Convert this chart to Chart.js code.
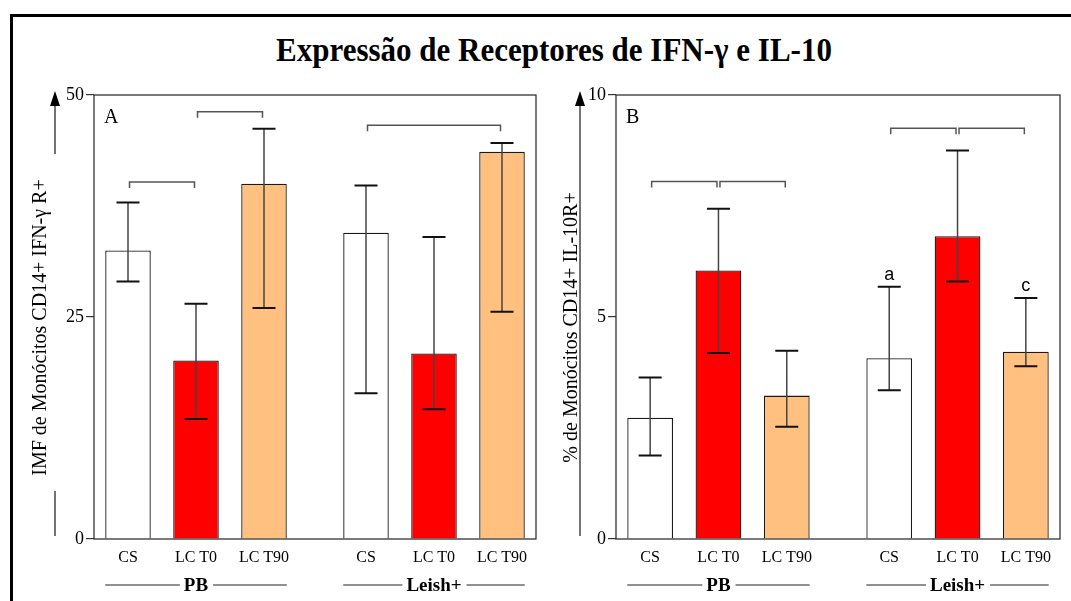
<!DOCTYPE html>
<html>
<head>
<meta charset="utf-8">
<script src="https://cdn.jsdelivr.net/npm/chart.js@4"></script>
<style>
  body { margin: 0; width: 1071px; height: 601px; overflow: hidden; background: #fff; position: relative; }
  #frame { position: absolute; left: 10px; top: 14px; width: 1100px; height: 640px; border: 3px solid #000; }
  #title { position: absolute; left: 0; width: 1108px; top: 35px; text-align: center;
           font: bold 31px "Liberation Serif", serif; line-height: 30px; color: #000; white-space: nowrap;
           transform: scaleY(1.12); }
  canvas { position: absolute; top: 80px; }
  #panelA { left: 0; }
  #panelB { left: 540px; }
</style>
</head>
<body>
<div id="frame"></div>
<div id="title">Expressão de Receptores de IFN-γ e IL-10</div>
<canvas id="panelA" width="540" height="521"></canvas>
<canvas id="panelB" width="531" height="521"></canvas>
<script>
var categories = ['CS', 'LC T0', 'LC T90', 'CS', 'LC T0', 'LC T90'];
var groups = ['PB', 'Leish+'];
var positions = [0, 1, 2, 3.5, 4.5, 5.5];
var barColors = ['#ffffff', '#ff0000', '#ffc080', '#ffffff', '#ff0000', '#ffc080'];

// A: IMF IFN-gamma R
var ifnMean = [32.5, 20.1, 40.0, 34.5, 20.9, 43.6];
var ifnLow = [29.0, 13.5, 26.0, 16.4, 14.6, 25.6];
var ifnHigh = [37.9, 26.5, 46.2, 39.8, 34.0, 44.6];
var ifnBracketFrom = [0, 1, 3.5];
var ifnBracketTo = [1, 2, 5.5];
var ifnBracketY = [40.2, 48.1, 46.6];

// B: % IL-10R
var il10Mean = [2.73, 6.05, 3.23, 4.07, 6.82, 4.22];
var il10Low = [1.88, 4.19, 2.53, 3.35, 5.80, 3.89];
var il10High = [3.64, 7.44, 4.24, 5.68, 8.75, 5.43];
var il10Letters = ['', '', '', 'a', '', 'c'];
var il10BracketFrom = [0, 1, 3.5, 4.5];
var il10BracketTo = [1, 2, 4.5, 5.5];
var il10BracketY = [8.05, 8.05, 9.25, 9.25];

var SERIF = '"Liberation Serif", "Times New Roman", serif';
var BAR_PCT = 0.67;

var decor = {
    id: 'decor',
    afterDatasetsDraw: function (chart, args, o) {
        var ctx = chart.ctx, xs = chart.scales.x, ys = chart.scales.y, a = chart.chartArea;
        var unit = xs.getPixelForValue(1) - xs.getPixelForValue(0);
        ctx.save();

        // box around plot
        ctx.strokeStyle = '#222';
        ctx.lineWidth = 1.2;
        ctx.strokeRect(a.left, a.top, a.right - a.left, a.bottom - a.top);

        // error bars
        positions.forEach(function (p, i) {
            var x = xs.getPixelForValue(p);
            var lo = ys.getPixelForValue(o.low[i]);
            var hi = ys.getPixelForValue(o.high[i]);
            ctx.strokeStyle = '#444';
            ctx.lineWidth = 1.5;
            ctx.beginPath();
            ctx.moveTo(x, lo);
            ctx.lineTo(x, hi);
            ctx.stroke();
            ctx.strokeStyle = '#111';
            ctx.lineWidth = 2;
            ctx.beginPath();
            ctx.moveTo(x - 11.5, lo); ctx.lineTo(x + 11.5, lo);
            ctx.moveTo(x - 11.5, hi); ctx.lineTo(x + 11.5, hi);
            ctx.stroke();
            if (o.letters && o.letters[i]) {
                ctx.fillStyle = '#000';
                ctx.font = '18px "Liberation Sans", Arial, sans-serif';
                ctx.textAlign = 'center';
                ctx.textBaseline = 'alphabetic';
                ctx.fillText(o.letters[i], x, hi - 7);
            }
        });

        // significance brackets
        ctx.strokeStyle = '#555';
        ctx.lineWidth = 1.5;
        o.bFrom.forEach(function (f, i) {
            var x1 = xs.getPixelForValue(f) + 1.5;
            var x2 = xs.getPixelForValue(o.bTo[i]) - 1.5;
            var y = ys.getPixelForValue(o.bY[i]);
            ctx.beginPath();
            ctx.moveTo(x1, y + 6); ctx.lineTo(x1, y); ctx.lineTo(x2, y); ctx.lineTo(x2, y + 6);
            ctx.stroke();
        });

        // panel letter
        ctx.fillStyle = '#000';
        ctx.font = '20px ' + SERIF;
        ctx.textAlign = 'left';
        ctx.textBaseline = 'alphabetic';
        ctx.fillText(o.letter, a.left + 10, a.top + 28);

        // group labels with lines
        var half = unit * BAR_PCT / 2;
        ctx.font = 'bold 19px ' + SERIF;
        ctx.textAlign = 'center';
        ctx.textBaseline = 'middle';
        ctx.strokeStyle = '#222';
        ctx.lineWidth = 1;
        groups.forEach(function (g, gi) {
            var left = xs.getPixelForValue(positions[gi * 3]) - half;
            var right = xs.getPixelForValue(positions[gi * 3 + 2]) + half;
            var mid = (left + right) / 2;
            var w = ctx.measureText(g).width;
            var y = 505;
            ctx.fillText(g, mid, y + 1);
            ctx.beginPath();
            ctx.moveTo(left, y); ctx.lineTo(mid - w / 2 - 4, y);
            ctx.moveTo(mid + w / 2 + 5, y); ctx.lineTo(right, y);
            ctx.stroke();
        });

        // y title (rotated)
        ctx.save();
        ctx.translate(o.titleX, 247.5);
        ctx.rotate(-Math.PI / 2);
        ctx.font = '20px ' + SERIF;
        ctx.textAlign = 'center';
        ctx.textBaseline = 'alphabetic';
        ctx.fillText(o.title, 0, 0);
        ctx.restore();

        // arrow beside the title
        ctx.strokeStyle = '#444';
        ctx.lineWidth = 1.5;
        o.arrowSegs.forEach(function (s) {
            ctx.beginPath();
            ctx.moveTo(o.arrowX, s[0]);
            ctx.lineTo(o.arrowX, s[1]);
            ctx.stroke();
        });
        ctx.fillStyle = '#000';
        ctx.beginPath();
        ctx.moveTo(o.arrowX, 11);
        ctx.lineTo(o.arrowX - 5, 26);
        ctx.lineTo(o.arrowX + 5, 26);
        ctx.closePath();
        ctx.fill();

        ctx.restore();
    }
};

function panel(id, mean, yMax, step, axisWidth, padRight, extra) {
    var ctx = document.getElementById(id).getContext('2d');
    return new Chart(ctx, {
        type: 'bar',
        data: {
            datasets: [{
                data: positions.map(function (p, i) { return { x: p, y: mean[i] }; }),
                backgroundColor: barColors,
                borderColor: '#1a1a1a',
                borderWidth: 1.3,
                categoryPercentage: 1,
                barPercentage: BAR_PCT
            }]
        },
        options: {
            responsive: false,
            animation: false,
            events: [],
            layout: { padding: { top: 15, right: padRight, left: 0, bottom: 0 } },
            plugins: {
                legend: { display: false },
                tooltip: { enabled: false },
                decor: extra
            },
            scales: {
                x: {
                    type: 'linear',
                    offset: false,
                    min: -0.5,
                    max: 6,
                    grid: { display: false, drawTicks: false },
                    border: { display: false },
                    afterBuildTicks: function (scale) {
                        scale.ticks = positions.map(function (p) { return { value: p }; });
                    },
                    afterFit: function (scale) { scale.height = 62; },
                    ticks: {
                        autoSkip: false,
                        maxRotation: 0,
                        padding: 9,
                        color: '#000',
                        font: { family: SERIF, size: 16 },
                        callback: function (v) { return categories[positions.indexOf(v)]; }
                    }
                },
                y: {
                    min: 0,
                    max: yMax,
                    grid: { drawOnChartArea: false, drawTicks: true, tickLength: 8, color: '#333', lineWidth: 1.2 },
                    border: { display: false },
                    afterFit: function (scale) { scale.width = axisWidth; },
                    ticks: {
                        stepSize: step,
                        padding: 2,
                        color: '#000',
                        font: { family: SERIF, size: 18 }
                    }
                }
            }
        },
        plugins: [decor]
    });
}

panel('panelA', ifnMean, 50, 25, 94, 4, {
    low: ifnLow, high: ifnHigh,
    bFrom: ifnBracketFrom, bTo: ifnBracketTo, bY: ifnBracketY,
    letter: 'A',
    title: 'IMF de Monócitos CD14+ IFN-γ R+',
    titleX: 46,
    arrowX: 55,
    arrowSegs: [[24, 74], [411, 456]]
});

panel('panelB', il10Mean, 10, 5, 76, 11, {
    low: il10Low, high: il10High, letters: il10Letters,
    bFrom: il10BracketFrom, bTo: il10BracketTo, bY: il10BracketY,
    letter: 'B',
    title: '% de Monócitos CD14+ IL-10R+',
    titleX: 37,
    arrowX: 40,
    arrowSegs: [[24, 456]]
});
</script>
</body>
</html>
